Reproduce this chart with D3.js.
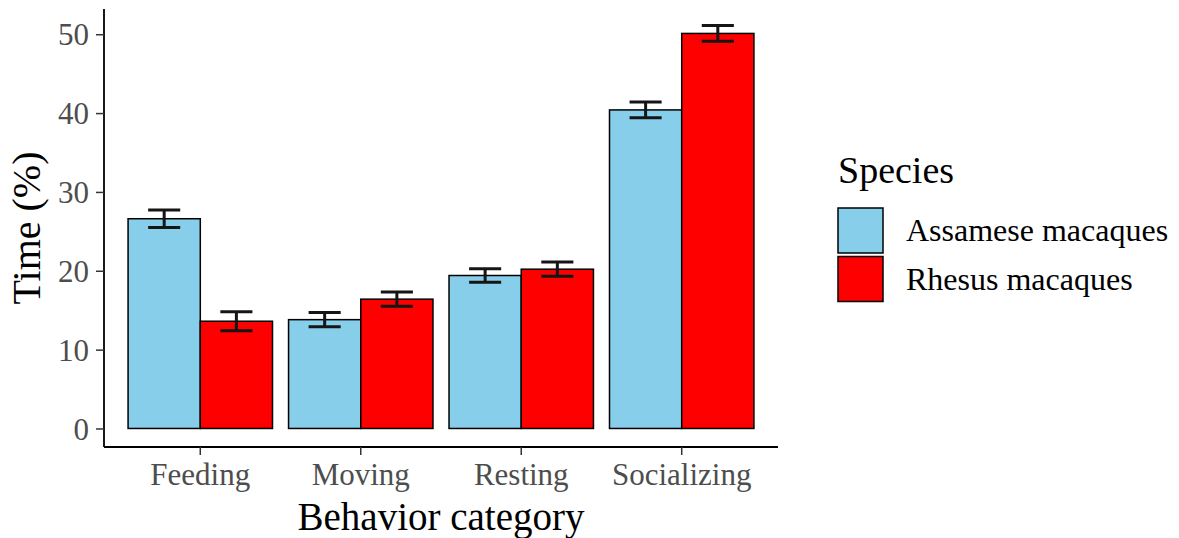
<!DOCTYPE html>
<html>
<head>
<meta charset="utf-8">
<script src="https://cdn.jsdelivr.net/npm/d3@7"></script>
<style>
  html, body { margin: 0; padding: 0; background: #fff; }
  svg { display: block; font-family: "Liberation Serif", "Times New Roman", serif; }
</style>
</head>
<body>
<svg id="chart" width="1179" height="538"></svg>
<script>
// behaviour categories on x, two species as dodged bars
var categories = ["Feeding", "Moving", "Resting", "Socializing"];
var species = ["Assamese macaques", "Rhesus macaques"];
var assameseMean = [26.6, 13.8, 19.4, 40.4];
var assameseErr  = [1.1, 0.9, 0.85, 1.0];
var rhesusMean   = [13.6, 16.4, 20.2, 50.1];
var rhesusErr    = [1.2, 0.9, 0.9, 1.0];
var yTicks = [0, 10, 20, 30, 40, 50];

(function () {
  "use strict";
  var svg = d3.select("#chart");
  var C = { blue: "#87CEEB", red: "#FF0000", ink: "#000", tick: "#4D4D4D", err: "#151515" };
  var fill = d3.scaleOrdinal().domain(species).range([C.blue, C.red]);

  // panel box, in px
  var P = { l: 104, r: 778, t: 9, b: 447 };

  var rows = [];
  categories.forEach(function (c, i) {
    rows.push({ cat: c, sp: species[0], v: assameseMean[i], e: assameseErr[i] });
    rows.push({ cat: c, sp: species[1], v: rhesusMean[i], e: rhesusErr[i] });
  });

  // ggplot-like discrete expansion: 0.6 units each side, dodge width 0.9
  var x = d3.scaleBand().domain(categories).range([P.l, P.r])
    .paddingInner(0.1).paddingOuter(0.15);
  var xs = d3.scaleBand().domain(species).range([0, x.bandwidth()]);
  var step = x.step();
  var y = d3.scaleLinear().domain([-2.35, 53.2]).range([P.b, P.t]);

  // bars
  svg.append("g").selectAll("rect").data(rows).enter().append("rect")
    .attr("x", function (d) { return x(d.cat) + xs(d.sp); })
    .attr("y", function (d) { return y(d.v); })
    .attr("width", xs.bandwidth())
    .attr("height", function (d) { return y(0) - y(d.v); })
    .attr("fill", function (d) { return fill(d.sp); })
    .attr("stroke", C.ink).attr("stroke-width", 1.5);

  // error bars, cap width 0.2 units
  var cap = 0.2 * step / 2;
  var ge = svg.append("g").attr("stroke", C.err).attr("stroke-width", 3).attr("fill", "none");
  rows.forEach(function (d) {
    var cx = x(d.cat) + xs(d.sp) + xs.bandwidth() / 2;
    var y1 = y(d.v + d.e), y0 = y(d.v - d.e);
    ge.append("line").attr("x1", cx).attr("x2", cx).attr("y1", y1).attr("y2", y0);
    ge.append("line").attr("x1", cx - cap).attr("x2", cx + cap).attr("y1", y1).attr("y2", y1);
    ge.append("line").attr("x1", cx - cap).attr("x2", cx + cap).attr("y1", y0).attr("y2", y0);
  });

  // y axis
  var ay = d3.axisLeft(y).tickValues(yTicks).tickSize(8).tickPadding(7).tickFormat(d3.format("d"));
  var gy = svg.append("g").attr("transform", "translate(" + P.l + ",0)").call(ay);
  gy.select(".domain").attr("d", "M0," + P.t + "V" + P.b).attr("stroke", C.ink).attr("stroke-width", 1.8);
  gy.selectAll(".tick line").attr("stroke", "#333").attr("stroke-width", 1.5);
  gy.selectAll(".tick text").attr("fill", C.tick).style("font-size", "31px")
    .style("font-family", "Liberation Serif, serif").attr("dy", "0.34em");

  // x axis
  var ax = d3.axisBottom(x).tickSize(8).tickPadding(8);
  var gx = svg.append("g").attr("transform", "translate(0," + P.b + ")").call(ax);
  gx.select(".domain").attr("d", "M" + P.l + ",0H" + P.r).attr("stroke", C.ink).attr("stroke-width", 1.8);
  gx.selectAll(".tick line").attr("stroke", "#333").attr("stroke-width", 1.5);
  gx.selectAll(".tick text").attr("fill", C.tick).style("font-size", "31px")
    .style("font-family", "Liberation Serif, serif").attr("dy", "0.71em");

  // axis titles
  svg.append("text").attr("x", (P.l + P.r) / 2).attr("y", 530).attr("text-anchor", "middle")
    .attr("fill", C.ink).style("font-size", "39px").text("Behavior category");
  svg.append("text").attr("transform", "translate(40," + ((P.t + P.b) / 2) + ") rotate(-90)")
    .attr("text-anchor", "middle").attr("fill", C.ink).style("font-size", "40px").text("Time (%)");

  // legend
  var lg = svg.append("g").attr("transform", "translate(838,0)");
  lg.append("text").attr("x", 0).attr("y", 183).attr("fill", C.ink)
    .style("font-size", "38px").text("Species");
  species.forEach(function (s, i) {
    var top = 208 + i * 48.5;
    lg.append("rect").attr("x", 0).attr("y", top).attr("width", 45).attr("height", 45)
      .attr("fill", fill(s)).attr("stroke", C.ink).attr("stroke-width", 1.5);
    lg.append("text").attr("x", 68).attr("y", top + 33).attr("fill", C.ink)
      .style("font-size", "32px").text(s);
  });
})();
</script>
</body>
</html>
